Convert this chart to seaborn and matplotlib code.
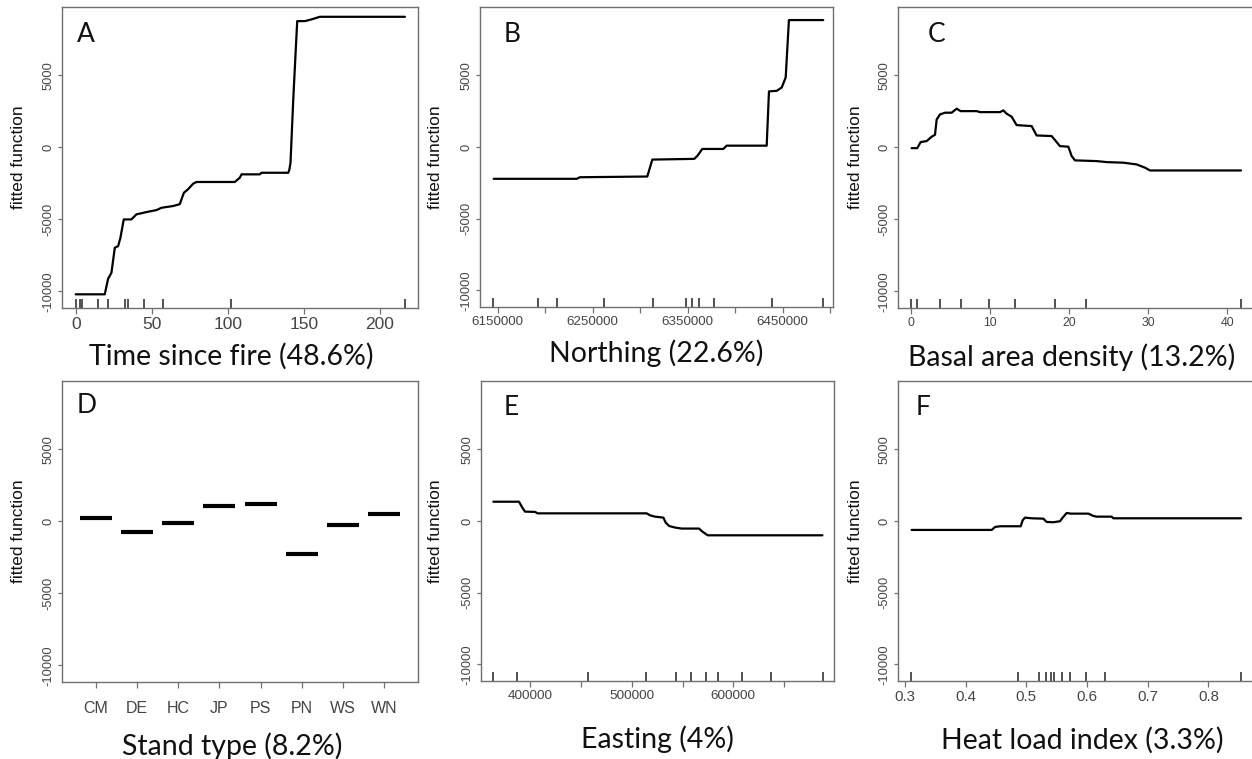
import numpy as np
import pandas as pd
import matplotlib
matplotlib.use("Agg")
import matplotlib.pyplot as plt
import seaborn as sns

# ---------------- data ----------------
# A: Time since fire
a_x = [0, 19.1, 21.3, 23.5, 25.7, 27.9, 29.4, 31.6, 36.6, 39.9, 46.5, 53.1, 56.4, 64.0, 68.4, 71.1,
       73.9, 77.2, 79.4, 104.6, 107.9, 109, 121, 122.1, 139.7, 140.4, 141.2, 143, 145.6, 150.7, 155,
       160.5, 216.4]
a_y = [-10200, -10200, -9120, -8700, -6970, -6850, -6270, -5000, -5000, -4650, -4490, -4350, -4190,
       -4070, -3940, -3150, -2900, -2520, -2400, -2400, -2100, -1870, -1870, -1760, -1760, -1570,
       -1060, 3330, 8770, 8770, 8890, 9070, 9070]
a_rug = [0.5, 3.1, 4.1, 14.7, 21.3, 32.7, 34.4, 44.9, 57.4, 102, 216.4]

# B: Northing
b_x = [6145800, 6233200, 6236600, 6307500, 6312800, 6357000, 6360500, 6365400, 6387500, 6391100,
       6433200, 6435600, 6443700, 6449000, 6453200, 6456600, 6492700]
b_y = [-2220, -2220, -2110, -2060, -880, -830, -600, -140, -140, 90, 90, 3870, 3910, 4140, 4840,
       8840, 8840]
b_rug = [6145400, 6192100, 6212700, 6262200, 6313200, 6348200, 6354200, 6361900, 6377700,
         6439100, 6492100]

# C: Basal area density
c_x = [0.08, 0.8, 1.22, 1.98, 2.61, 3.04, 3.25, 3.67, 4.30, 5.14, 5.78, 6.28, 8.31, 8.73, 11.26,
       11.68, 12.10, 12.73, 13.36, 15.26, 15.89, 17.79, 18.84, 19.90, 20.32, 20.74, 23.48, 24.75,
       26.85, 28.54, 29.6, 30.23, 41.74]
c_y = [-50, -50, 370, 440, 740, 880, 1940, 2290, 2410, 2410, 2690, 2520, 2520, 2450, 2450, 2570,
       2340, 2130, 1550, 1480, 830, 790, 90, 50, -600, -900, -950, -1020, -1060, -1180, -1410,
       -1600, -1600]
c_rug = [0.0, 0.72, 3.67, 6.28, 9.82, 13.11, 18.25, 22.13, 41.73]

# D: Stand type
d_cats = ["CM", "DE", "HC", "JP", "PS", "PN", "WS", "WN"]
d_vals = [230, -740, -140, 1090, 1230, -2250, -280, 510]

# E: Easting
e_x = [363900, 389200, 392400, 395100, 404900, 407500, 514800, 518100, 523000, 531200, 533500,
       536800, 542600, 549200, 566200, 569500, 574800, 687600]
e_y = [1340, 1340, 930, 650, 630, 530, 530, 390, 300, 230, -120, -350, -460, -530, -530, -740,
       -1000, -1000]
e_rug = [363900, 386900, 457400, 513800, 543300, 558100, 572800, 585200, 608300, 637100, 688500]

# F: Heat load index
f_x = [0.3110, 0.4429, 0.4484, 0.4566, 0.4907, 0.4940, 0.4978, 0.5088, 0.5280, 0.5335, 0.5445,
       0.5555, 0.5599, 0.5665, 0.5731, 0.6022, 0.6104, 0.6159, 0.6407, 0.6434, 0.8538]
f_y = [-625, -625, -420, -370, -370, 50, 230, 185, 160, -70, -90, -20, 230, 555, 510, 510, 350,
       300, 300, 185, 185]
f_rug = [0.3099, 0.4868, 0.521, 0.532, 0.5402, 0.5462, 0.5594, 0.5721, 0.5980, 0.6298, 0.8534]

y_ticks = [-10000, -5000, 0, 5000]
y_ticklabels = ["-10000", "-5000", "0", "5000"]

titles = ["Time since fire (48.6%)", "Northing (22.6%)", "Basal area density (13.2%)",
          "Stand type (8.2%)", "Easting (4%)", "Heat load index (3.3%)"]
letters = ["A", "B", "C", "D", "E", "F"]

# ---------------- style ----------------
sns.set_style("white")
plt.rcParams["font.family"] = ["Liberation Sans", "DejaVu Sans"]
LABEL_FONT = ["Lato", "DejaVu Sans"]
SPINE = "#707070"
TICKC = "#444444"

W, H = 1252, 759
fig = plt.figure(figsize=(W / 100, H / 100), dpi=100)
fig.patch.set_facecolor("white")

# axes boxes in pixels: left, right, top, bottom
boxes = [(62, 418, 7, 308), (480, 833, 7, 307), (898, 1253, 7, 308),
         (62, 418, 381, 682), (481, 834, 381, 681), (898, 1253, 381, 681)]
axes = []
for (l, r, t, b) in boxes:
    ax = fig.add_axes([l / W, 1 - b / H, (r - l) / W, (b - t) / H])
    axes.append(ax)

YLIM = (-11150, 9750)

def style(ax, letter, xlim, xticks, xticklabels, xtick_size, xpad, letter_pos, xlabel, xlabel_pos,
          ylabel_x):
    ax.set_ylim(*YLIM)
    ax.set_xlim(*xlim)
    for s in ax.spines.values():
        s.set_visible(True)
        s.set_color(SPINE)
        s.set_linewidth(1.0)
    ax.set_xticks(xticks, xticklabels)
    ax.set_yticks(y_ticks, y_ticklabels, rotation=90, va="center")
    ax.tick_params(axis="x", direction="out", length=4, width=0.9, color=SPINE,
                   labelsize=xtick_size, labelcolor=TICKC, pad=xpad, bottom=True)
    ax.tick_params(axis="y", direction="out", length=3, width=0.9, color=SPINE,
                   labelsize=9.3, labelcolor=TICKC, pad=2.5, left=True)
    ax.grid(False)
    ax.set_ylabel("fitted function", fontsize=12.5, color="#111111")
    ax.yaxis.label.set_verticalalignment("center")
    ax.yaxis.set_label_coords(ylabel_x, 0.5)
    ax.set_xlabel(xlabel, fontsize=20.5, family=LABEL_FONT, color="#111111")
    ax.xaxis.label.set_verticalalignment("center")
    ax.xaxis.set_label_coords(*xlabel_pos)
    ax.text(letter_pos[0], letter_pos[1], letter, transform=ax.transAxes, ha="center",
            va="center", fontsize=19, family=LABEL_FONT, color="#111111")

LINE = dict(color="black", linewidth=1.6, sort=False, estimator=None)
RUG = dict(height=0.03, color="#222222", linewidth=1.1, expand_margins=False)

# A
ax = axes[0]
sns.lineplot(x=a_x, y=a_y, ax=ax, **LINE)
sns.rugplot(x=a_rug, ax=ax, **RUG)
style(ax, letters[0], (-9, 225), [0, 50, 100, 150, 200], ["0", "50", "100", "150", "200"], 12.5, 2.5,
      (0.067, 0.910), titles[0], (0.475, -0.159), -0.121)

# B
ax = axes[1]
sns.lineplot(x=b_x, y=b_y, ax=ax, **LINE)
sns.rugplot(x=b_rug, ax=ax, **RUG)
bt = list(range(6150000, 6500001, 50000))
bl = [str(v) if (v - 6150000) % 100000 == 0 else "" for v in bt]
style(ax, letters[1], (6131400, 6503000), bt, bl, 9.6, 2.5, (0.091, 0.907), titles[1],
      (0.499, -0.153), -0.127)

# C
ax = axes[2]
sns.lineplot(x=c_x, y=c_y, ax=ax, **LINE)
sns.rugplot(x=c_rug, ax=ax, **RUG)
style(ax, letters[2], (-1.64, 43.25), [0, 10, 20, 30, 40], ["0", "10", "20", "30", "40"], 8.8, 2.5,
      (0.110, 0.910), titles[2], (0.49, -0.163), -0.121)

# D
ax = axes[3]
dd = pd.DataFrame({"stand": d_cats, "value": d_vals})
sns.scatterplot(data=dd, x="stand", y="value", ax=ax, marker="_", s=560, linewidth=3.0,
                color="black", legend=False)
style(ax, letters[3], (-0.83, 7.83), list(range(len(d_cats))), d_cats, 11.5, 10, (0.069, 0.917),
      titles[3], (0.478, -0.213), -0.121)

# E
ax = axes[4]
sns.lineplot(x=e_x, y=e_y, ax=ax, **LINE)
sns.rugplot(x=e_rug, ax=ax, **RUG)
et = list(range(400000, 650001, 50000))
el = [str(v) if v % 100000 == 0 else "" for v in et]
style(ax, letters[4], (351800, 699000), et, el, 9.7, 2.5, (0.085, 0.913), titles[4],
      (0.499, -0.193), -0.13)

# F
ax = axes[5]
sns.lineplot(x=f_x, y=f_y, ax=ax, **LINE)
sns.rugplot(x=f_rug, ax=ax, **RUG)
ft = [0.3, 0.4, 0.5, 0.6, 0.7, 0.8]
style(ax, letters[5], (0.2885, 0.8736), ft, ["0.3", "0.4", "0.5", "0.6", "0.7", "0.8"], 10.8, 2.5,
      (0.070, 0.913), titles[5], (0.518, -0.197), -0.121)

fig.savefig("out.png", dpi=100, facecolor="white")
